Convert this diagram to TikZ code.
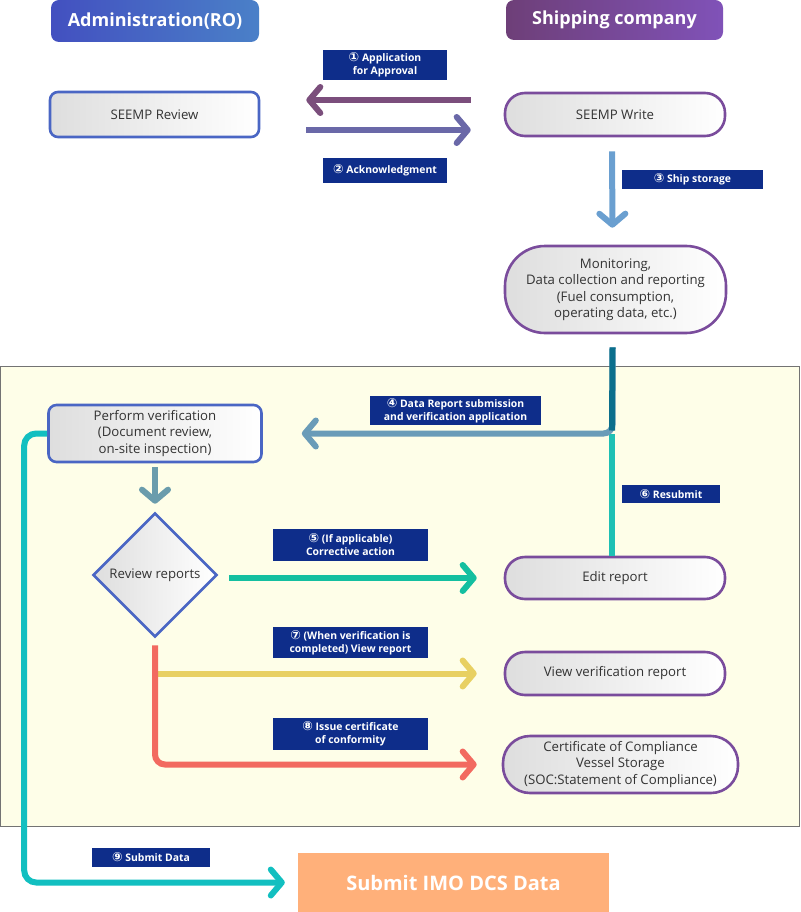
\documentclass[tikz,border=0pt]{standalone}
\usepackage{fontspec}
\setmainfont{Open Sans}
\newfontfamily\dvfont{DejaVu Sans}
\usetikzlibrary{shapes.geometric,arrows.meta}
\newcommand{\cnum}[1]{{\dvfont\fontsize{12.5}{13}\selectfont #1}}
\definecolor{hblueL}{HTML}{4350C0}
\definecolor{hblueR}{HTML}{4A80C8}
\definecolor{hpurL}{HTML}{6E3F78}
\definecolor{hpurR}{HTML}{8052B8}
\definecolor{bblue}{HTML}{4A66C4}
\definecolor{bpur}{HTML}{7A4C9C}
\definecolor{navy}{HTML}{0E2D8A}
\definecolor{cone}{HTML}{7B4E7C}
\definecolor{ctwo}{HTML}{6A68A8}
\definecolor{cthree}{HTML}{6A9FD0}
\definecolor{cfour}{HTML}{6A9CB8}
\definecolor{cdark}{HTML}{0B6F8C}
\definecolor{cfive}{HTML}{14BFA0}
\definecolor{csix}{HTML}{1EC0B4}
\definecolor{cdown}{HTML}{6A9CAC}
\definecolor{cyel}{HTML}{E8D062}
\definecolor{cred}{HTML}{F26A60}
\definecolor{cnine}{HTML}{12BFC0}
\definecolor{imo}{HTML}{FFB07A}
\definecolor{zone}{HTML}{FEFEE8}
\definecolor{txt}{HTML}{333333}
\tikzset{
  hdr/.style={rounded corners=8, text=white, font=\bfseries\fontsize{18}{20}\selectfont, inner sep=0},
  box/.style={rounded corners=8, line width=2.6, left color=black!13, right color=white, text=txt, font=\fontsize{13.2}{16.5}\selectfont, align=center, inner sep=0},
  bluebox/.style={box, draw=bblue},
  purbox/.style={box, draw=bpur},
  lbl/.style={fill=navy, text=white, font=\bfseries\fontsize{10.4}{13}\selectfont, align=center, inner sep=0},
  arr/.style={line width=6, -{Straight Barb[length=11pt, width=26pt, round]}},
  plain/.style={line width=6}
}
\begin{document}
\begin{tikzpicture}[x=1pt,y=-1pt]
\useasboundingbox (0,0) rectangle (800,912);
% zone
\draw[fill=zone, draw=black!55, line width=1] (0.5,366) rectangle (799.5,826);
% headers
\node[hdr, left color=hblueL, right color=hblueR, minimum width=208, minimum height=42] (hadm) at (155,21) {Administration(RO)};
\node[hdr, left color=hpurL, right color=hpurR, minimum width=217, minimum height=40] (hship) at (614.5,20) {Shipping company};
% nodes
\node[bluebox, minimum width=209, minimum height=45] (review) at (154.5,114.5) {SEEMP Review};
\node[purbox, rounded corners=20, minimum width=220, minimum height=43] (write) at (615,114.5) {SEEMP Write};
\node[purbox, rounded corners=40, minimum width=221, minimum height=87] (mon) at (615.5,289.5) {Monitoring,\\Data collection and reporting\\(Fuel consumption,\\operating data, etc.)};
\node[bluebox, minimum width=213, minimum height=57] (verif) at (155,433.5) {Perform verification\\(Document review,\\on-site inspection)};
\node[bluebox, shape=diamond, rounded corners=0, minimum width=124, minimum height=124] (dia) at (155,575) {Review reports};
\node[purbox, rounded corners=20, minimum width=220, minimum height=42] (edit) at (615,578) {Edit report};
\node[purbox, rounded corners=20, minimum width=220, minimum height=43] (view) at (615,673.5) {View verification report};
\node[purbox, rounded corners=27, minimum width=235, minimum height=57] (cert) at (620.5,764.5) {Certificate of Compliance\\Vessel Storage\\(SOC:Statement of Compliance)};
\node[fill=imo, text=white, font=\bfseries\fontsize{20}{23}\selectfont, minimum width=311, minimum height=59, inner sep=0] (imo) at (453.5,882.5) {Submit IMO DCS Data};
% labels
\node[lbl, minimum width=124, minimum height=30] (l1) at (385,65) {\cnum{①} Application\\for Approval};
\node[lbl, minimum width=124, minimum height=25] (l2) at (385,170.5) {\cnum{②} Acknowledgment};
\node[lbl, minimum width=141, minimum height=19] (l3) at (692.5,179.5) {\cnum{③} Ship storage};
\node[lbl, minimum width=171, minimum height=29] (l4) at (455.5,410.5) {\cnum{④} Data Report submission\\and verification application};
\node[lbl, minimum width=155, minimum height=32] (l5) at (350.5,545) {\cnum{⑤} (If applicable)\\Corrective action};
\node[lbl, minimum width=98, minimum height=18] (l6) at (671,494) {\cnum{⑥} Resubmit};
\node[lbl, minimum width=155, minimum height=31] (l7) at (350.5,642.5) {\cnum{⑦} (When verification is\\completed) View report};
\node[lbl, minimum width=155, minimum height=32] (l8) at (350.5,734) {\cnum{⑧} Issue certificate\\of conformity};
\node[lbl, minimum width=118, minimum height=19] (l9) at (151,857.5) {\cnum{⑨} Submit Data};
% connectors
\draw[arr, cone, shorten <=33, shorten >=46] ([yshift=14.5]write.west) -- ([yshift=14.5]write.west -| review.east);
\draw[arr, ctwo, shorten <=46, shorten >=33] ([yshift=-15.5]review.east) -- ([yshift=-15.5]review.east -| write.west);
\draw[arr, cthree, shorten <=14, shorten >=17] ([xshift=-3]write.south) -- ([xshift=-3]mon.north);
\coordinate (j) at (612,433.5);
\draw[plain, csix] ([xshift=-3]edit.north) -- (j);
\draw[arr, cfour, rounded corners=9, shorten <=13] ([xshift=-3]mon.south) |- (verif.east) [shorten >=39];
\path ([xshift=-3]mon.south) ++(0,13) coordinate (m4);
\draw[plain, cdark] (m4) -- ([yshift=3]j);
\draw[arr, cdown, shorten <=4, shorten >=8] (verif.south) -- (dia.north);
\draw[arr, cfive, shorten <=11, shorten >=27] (dia.east |- edit.west) -- (edit.west);
\draw[arr, cyel, shorten >=27] (dia.south |- view.west) -- (view.west);
\draw[arr, cred, rounded corners=10, shorten <=7, shorten >=25] (dia.south) |- (cert.west);
\draw[arr, cnine, rounded corners=12, shorten >=13] (verif.west) -- ++(-23,0) |- (imo.west);
\end{tikzpicture}
\end{document}
